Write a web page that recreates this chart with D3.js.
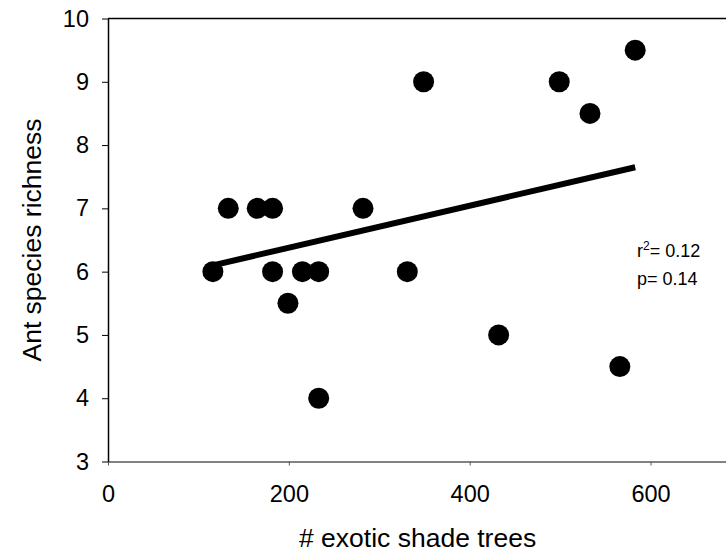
<!DOCTYPE html>
<html>
<head>
<meta charset="utf-8">
<script src="https://cdn.jsdelivr.net/npm/d3@7"></script>
<style>
  body { margin: 0; background: #fff; }
  svg text { font-family: "Liberation Sans", Arial, sans-serif; }
</style>
</head>
<body>
<div id="chart"></div>
<script>
// data
const shadeTrees = [116, 133, 165, 182, 182, 199, 215, 233, 233, 282, 331, 349, 432, 499, 533, 566, 583];
const richness   = [6, 7, 7, 7, 6, 5.5, 6, 6, 4, 7, 6, 9, 5, 9, 8.5, 4.5, 9.5];
const trendX = [116, 583];
const trendY = [6.1, 7.65];
const xTicks = [0, 200, 400, 600];
const yTicks = [3, 4, 5, 6, 7, 8, 9, 10];
const statLines = ["= 0.12", "p= 0.14"];

const width = 726, height = 552;
const margin = { top: 18, right: 0, bottom: 91, left: 108 };

const svg = d3.select("#chart")
    .append("svg")
    .attr("width", width)
    .attr("height", height);

// scales
const x = d3.scaleLinear().domain([0, 700]).range([margin.left, margin.left + 633]);
const y = d3.scaleLinear().domain([3, 10]).range([height - margin.bottom + 0.5, margin.top + 0.5]);

// top frame line
svg.append("line")
    .attr("x1", x(0)).attr("x2", width)
    .attr("y1", y(10)).attr("y2", y(10))
    .attr("stroke", "#000").attr("stroke-width", 1.5);

// x axis
const xAxis = svg.append("g")
    .attr("transform", `translate(0, ${y(3)})`)
    .call(d3.axisBottom(x).tickValues(xTicks).tickFormat(d3.format("d"))
        .tickSize(4).tickPadding(20).tickSizeOuter(0));
xAxis.select(".domain").attr("stroke", "#595959").attr("stroke-width", 1.5);
xAxis.selectAll(".tick line").attr("stroke", "#595959");
xAxis.selectAll("text").attr("font-size", 23.5).attr("fill", "#000")
    .attr("font-family", "Liberation Sans, Arial, sans-serif");

// y axis
const yAxis = svg.append("g")
    .attr("transform", `translate(${x(0)}, 0)`)
    .call(d3.axisLeft(y).tickValues(yTicks).tickFormat(d3.format("d"))
        .tickSize(6).tickPadding(13).tickSizeOuter(0));
yAxis.select(".domain").attr("stroke", "#000").attr("stroke-width", 1.5);
yAxis.selectAll(".tick line").attr("stroke", "#000");
yAxis.selectAll("text").attr("font-size", 23.5).attr("fill", "#000")
    .attr("font-family", "Liberation Sans, Arial, sans-serif");

// points
svg.append("g")
    .selectAll("circle")
    .data(shadeTrees.map((d, i) => ({ x: d, y: richness[i] })))
    .enter()
    .append("circle")
    .attr("cx", d => x(d.x))
    .attr("cy", d => y(d.y))
    .attr("r", 10.5)
    .attr("fill", "#000");

// trend line
svg.append("line")
    .attr("x1", x(trendX[0])).attr("y1", y(trendY[0]))
    .attr("x2", x(trendX[1])).attr("y2", y(trendY[1]))
    .attr("stroke", "#000")
    .attr("stroke-width", 6);

// stats annotation
const stat = svg.append("g").style("font-family", "Lato, 'Open Sans', sans-serif");
const r2 = stat.append("text")
    .attr("x", 637).attr("y", 257)
    .attr("font-size", 18);
r2.append("tspan").text("r");
r2.append("tspan").attr("dy", -7).attr("font-size", 12).text("2");
r2.append("tspan").attr("dy", 7).text(statLines[0]);
stat.append("text")
    .attr("x", 637).attr("y", 285)
    .attr("font-size", 18)
    .text(statLines[1]);

// axis titles
svg.append("text")
    .attr("x", 299)
    .attr("y", 547)
    .attr("font-size", 26.5)
    .text("# exotic shade trees");

svg.append("text")
    .attr("transform", "rotate(-90)")
    .attr("x", -240)
    .attr("y", 41)
    .attr("text-anchor", "middle")
    .attr("font-size", 26.5)
    .text("Ant species richness");
</script>
</body>
</html>
